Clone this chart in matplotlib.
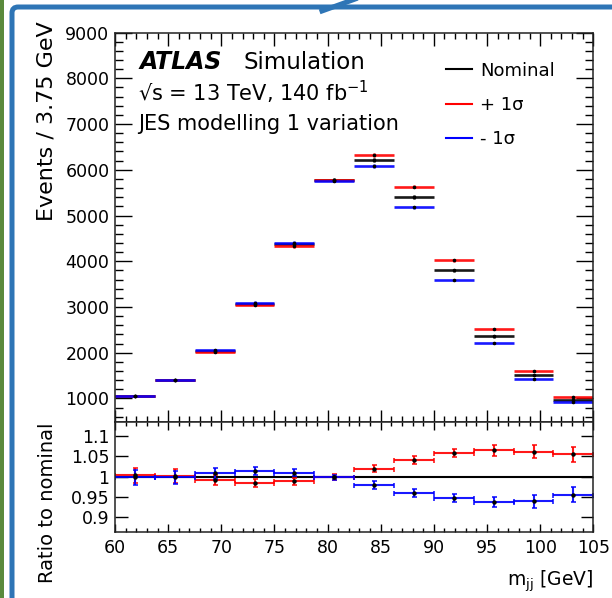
import numpy as np
import matplotlib.pyplot as plt
from matplotlib.lines import Line2D
from matplotlib.patches import Rectangle, FancyBboxPatch

# binning: 12 bins of 3.75 GeV between 60 and 105
bin_edges = [60, 63.75, 67.5, 71.25, 75, 78.75, 82.5, 86.25, 90, 93.75, 97.5, 101.25, 105]

# events per bin
nominal = [1050, 1400, 2040, 3065, 4370, 5775, 6210, 5405, 3800, 2357, 1510, 970]
up      = [1055, 1402, 2025, 3040, 4330, 5770, 6330, 5630, 4020, 2516, 1604, 1025]
down    = [1048, 1398, 2058, 3092, 4405, 5765, 6077, 5180, 3590, 2210, 1416, 928]
main_err = [15, 18, 22, 28, 32, 38, 40, 38, 32, 26, 20, 16]

# ratio to nominal
ratio_up   = [1.003, 1.002, 0.992, 0.985, 0.988, 0.999, 1.020, 1.041, 1.058, 1.065, 1.062, 1.055]
ratio_down = [0.998, 0.998, 1.008, 1.014, 1.010, 0.998, 0.979, 0.959, 0.946, 0.937, 0.939, 0.955]
ratio_err  = [0.018, 0.017, 0.013, 0.010, 0.008, 0.007, 0.009, 0.009, 0.010, 0.013, 0.016, 0.018]

labels = ["Nominal", "+ 1\u03c3", "- 1\u03c3"]

edges = np.array(bin_edges)
centers = 0.5 * (edges[1:] + edges[:-1])
half = 0.5 * np.diff(edges)

plt.rcParams['font.family'] = ['DejaVu Sans']
plt.rcParams['mathtext.fontset'] = 'dejavusans'

fig = plt.figure(figsize=(6.12, 5.98), dpi=100)
W, H = 612.0, 598.0

# slide decorations around the picture
fig.patches.append(Rectangle((0, 0), 4 / W, 1, transform=fig.transFigure,
                             facecolor='#5a8a3c', edgecolor='none', zorder=0))
fig.patches.append(FancyBboxPatch((12 / W, -0.05), 1.0, 1 - 7 / H + 0.05,
                                  boxstyle="round,pad=0,rounding_size=0.01",
                                  transform=fig.transFigure, facecolor='none',
                                  edgecolor='#2e75b6', linewidth=3.6, zorder=0))
fig.lines.append(Line2D([322 / W, 358 / W], [1 - 11 / H, 1 + 2 / H], transform=fig.transFigure,
                        color='#2e75b6', linewidth=3.6))

ax = fig.add_axes([115 / W, 1 - 421.5 / H, 478.3 / W, 388.9 / H])
rax = fig.add_axes([115 / W, 1 - 531.7 / H, 478.3 / W, 110.2 / H], sharex=ax)

colors = ['black', '#ff0000', '#0000ff']
handles = []
for vals, c in zip([nominal, up, down], colors):
    ax.errorbar(centers, vals, xerr=half, yerr=main_err, fmt='none', ecolor=c,
                elinewidth=1.9, capsize=0, alpha=0.9)
for vals in [nominal, up, down]:
    ax.plot(centers, vals, 'o', color='black', ms=1.6)

for c, lab in zip(colors, labels):
    handles.append(Line2D([], [], color=c, lw=1.5, label=lab))

ax.set_xlim(60, 105)
ax.set_ylim(495, 9000)
ax.set_yticks(np.arange(1000, 9001, 1000))
ax.set_yticks(np.arange(600, 9001, 200), minor=True)
ax.set_xticks(np.arange(60, 106, 5))
ax.set_xticks(np.arange(60, 106, 1), minor=True)
ax.tick_params(axis='both', which='both', direction='in', top=True, right=True,
               labelbottom=False, labelsize=12.5, width=1.0, pad=4)
ax.tick_params(axis='y', which='major', length=12)
ax.tick_params(axis='y', which='minor', length=6)
ax.tick_params(axis='x', which='major', length=9)
ax.tick_params(axis='x', which='minor', length=4.5)
ax.set_ylabel("Events / 3.75 GeV", fontsize=16)
ax.yaxis.set_label_coords(-0.122, 1.03, transform=ax.transAxes)
ax.yaxis.label.set_horizontalalignment('right')

leg = ax.legend(handles=handles, loc='upper left', bbox_to_anchor=(0.693, 0.925),
                frameon=False, fontsize=13, handlelength=1.4, handletextpad=0.45,
                labelspacing=0.9, borderpad=0, borderaxespad=0)

ax.text(0.052, 0.9056, "ATLAS", transform=ax.transAxes, fontsize=17,
        fontweight='bold', fontstyle='italic', va='baseline')
ax.text(0.268, 0.9056, "Simulation", transform=ax.transAxes, fontsize=16.5, va='baseline')
ax.text(0.048, 0.8229, "\u221as = 13 TeV, 140 fb$^{-1}$", transform=ax.transAxes,
        fontsize=15, va='baseline')
ax.text(0.048, 0.7483, "JES modelling 1 variation", transform=ax.transAxes,
        fontsize=15, va='baseline')

# ratio panel
rax.axhline(1.0, color='black', lw=1.5, zorder=1)
for vals, c in [(ratio_up, colors[1]), (ratio_down, colors[2])]:
    rax.errorbar(centers, vals, xerr=half, yerr=ratio_err, fmt='none', ecolor=c,
                 elinewidth=1.5, capsize=1.8, capthick=1.2, alpha=0.9)
    rax.plot(centers, vals, 'o', color='black', ms=2.2, zorder=3)
rax.set_ylim(0.863, 1.137)
rax.set_yticks([0.9, 0.95, 1.0, 1.05, 1.1])
rax.set_yticklabels(["0.9", "0.95", "1", "1.05", "1.1"])
rax.tick_params(axis='both', which='both', direction='in', top=True, right=True,
                labelsize=12.5, width=1.0)
rax.tick_params(axis='y', which='major', length=9, pad=4)
rax.tick_params(axis='x', which='major', length=6, pad=5)
rax.tick_params(axis='x', which='minor', length=3)
rax.set_ylabel("Ratio to nominal", fontsize=14)
rax.yaxis.set_label_coords(-0.122, 0.26, transform=rax.transAxes)
rax.set_xlabel("m$_{\\rm jj}$ [GeV]", fontsize=13.5, loc='right')
rax.xaxis.set_label_coords(1.0, -0.33, transform=rax.transAxes)
rax.xaxis.label.set_horizontalalignment('right')

for a in (ax, rax):
    for s in a.spines.values():
        s.set_linewidth(1.1)
        s.set_color('#222222')

fig.savefig("out.png", dpi=100)
